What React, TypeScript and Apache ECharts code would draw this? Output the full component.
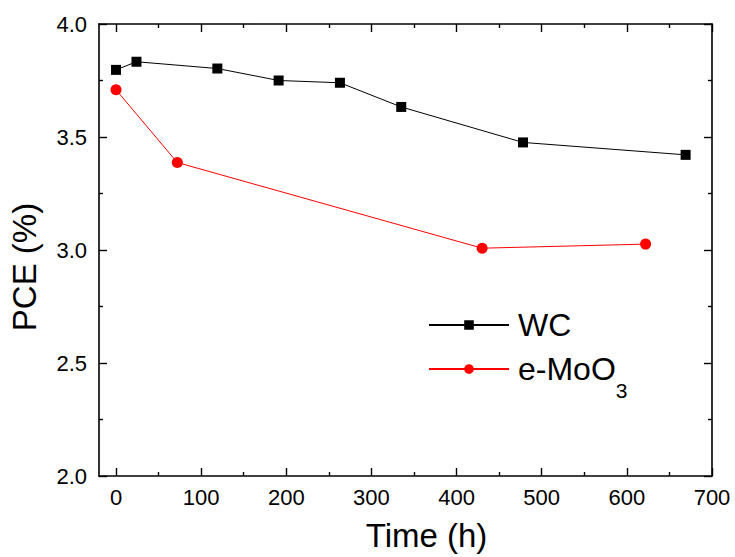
import React, { useEffect, useRef } from "react";
import * as echarts from "echarts";

const wcTime = [0, 24, 119, 191, 263, 335, 478, 669];
const wcPce = [3.797, 3.833, 3.803, 3.75, 3.74, 3.633, 3.476, 3.421];
const moTime = [0, 72, 430, 622];
const moPce = [3.709, 3.387, 3.008, 3.026];
const xMajor = [0, 100, 200, 300, 400, 500, 600, 700];
const xMinor = [50, 150, 250, 350, 450, 550, 650];

const FONT = "Liberation Sans, Arial, sans-serif";

export default function App() {
  const ref = useRef<HTMLDivElement>(null);
  useEffect(() => {
    const chart = echarts.init(ref.current!, null, { renderer: "svg" });
    const baseX = (pos: string, ticks: number[], len: number, showLabel: boolean, showLine: boolean, extra: any = {}) => ({
      type: "value",
      position: pos,
      min: -20,
      max: 700,
      axisLine: { show: showLine, onZero: false, lineStyle: { color: "#000", width: 1.6 } },
      axisTick: { show: true, inside: true, length: len, customValues: ticks, lineStyle: { color: "#000", width: 1.4 } },
      axisLabel: showLabel
        ? { show: true, customValues: xMajor, color: "#000", fontSize: 22, fontFamily: FONT, margin: 10 }
        : { show: false },
      splitLine: { show: false },
      ...extra,
    });
    const baseY = (pos: string, showLabel: boolean, extra: any = {}) => ({
      type: "value",
      position: pos,
      min: 2.0,
      max: 4.0,
      interval: 0.5,
      axisLine: { show: true, onZero: false, lineStyle: { color: "#000", width: 1.6 } },
      axisTick: { show: true, inside: true, length: 8, lineStyle: { color: "#000", width: 1.4 } },
      minorTick: { show: true, splitNumber: 2, length: 4, lineStyle: { color: "#000", width: 1.4 } },
      axisLabel: showLabel
        ? { show: true, color: "#000", fontSize: 22, fontFamily: FONT, margin: 12, formatter: (v: number) => v.toFixed(1) }
        : { show: false },
      splitLine: { show: false },
      ...extra,
    });
    chart.setOption({
      animation: false,
      backgroundColor: "#fff",
      grid: { left: 99, right: 23, top: 24, bottom: 80, containLabel: false },
      xAxis: [
        baseX("bottom", xMajor, 8, true, true, {
          name: "Time (h)",
          nameLocation: "middle",
          nameGap: 43,
          nameTextStyle: { color: "#000", fontSize: 33, fontFamily: FONT, padding: [0, 0, 0, 42] },
        }),
        baseX("bottom", xMinor, 4, false, false),
        baseX("top", xMajor, 8, false, true),
        baseX("top", xMinor, 4, false, false),
      ],
      yAxis: [
        baseY("left", true, {
          name: "PCE (%)",
          nameLocation: "middle",
          nameGap: 58,
          nameTextStyle: { color: "#000", fontSize: 33, fontFamily: FONT, padding: [0, 34, 0, 0] },
        }),
        baseY("right", false),
      ],
      legend: {
        orient: "vertical",
        left: 423,
        top: 304,
        itemWidth: 80,
        itemHeight: 12,
        itemGap: 12,
        data: ["WC", "e-MoO3"],
        formatter: (name: string) => (name === "e-MoO3" ? "{n|e-MoO}{s|3}" : "{n|WC}"),
        textStyle: {
          color: "#000",
          fontFamily: FONT,
          fontSize: 32,
          rich: {
            n: { fontSize: 32, fontFamily: FONT, color: "#000", lineHeight: 22, verticalAlign: "middle", padding: [0, 0, 0, 4] },
            s: { fontSize: 21, fontFamily: FONT, color: "#000", lineHeight: 64, verticalAlign: "bottom" },
          },
        },
      },
      series: [
        {
          name: "WC",
          type: "line",
          xAxisIndex: 0,
          yAxisIndex: 0,
          data: wcTime.map((t, i) => [t, wcPce[i]]),
          symbol: "rect",
          symbolSize: 10,
          itemStyle: { color: "#000" },
          lineStyle: { color: "#000", width: 1 },
        },
        {
          name: "e-MoO3",
          type: "line",
          xAxisIndex: 0,
          yAxisIndex: 0,
          data: moTime.map((t, i) => [t, moPce[i]]),
          symbol: "circle",
          symbolSize: 11,
          itemStyle: { color: "#ff0000" },
          lineStyle: { color: "#ff0000", width: 1 },
        },
      ],
    });
    return () => chart.dispose();
  }, []);
  return <div ref={ref} style={{ width: 735, height: 557, position: "absolute", left: 0, top: 0 }} />;
}
